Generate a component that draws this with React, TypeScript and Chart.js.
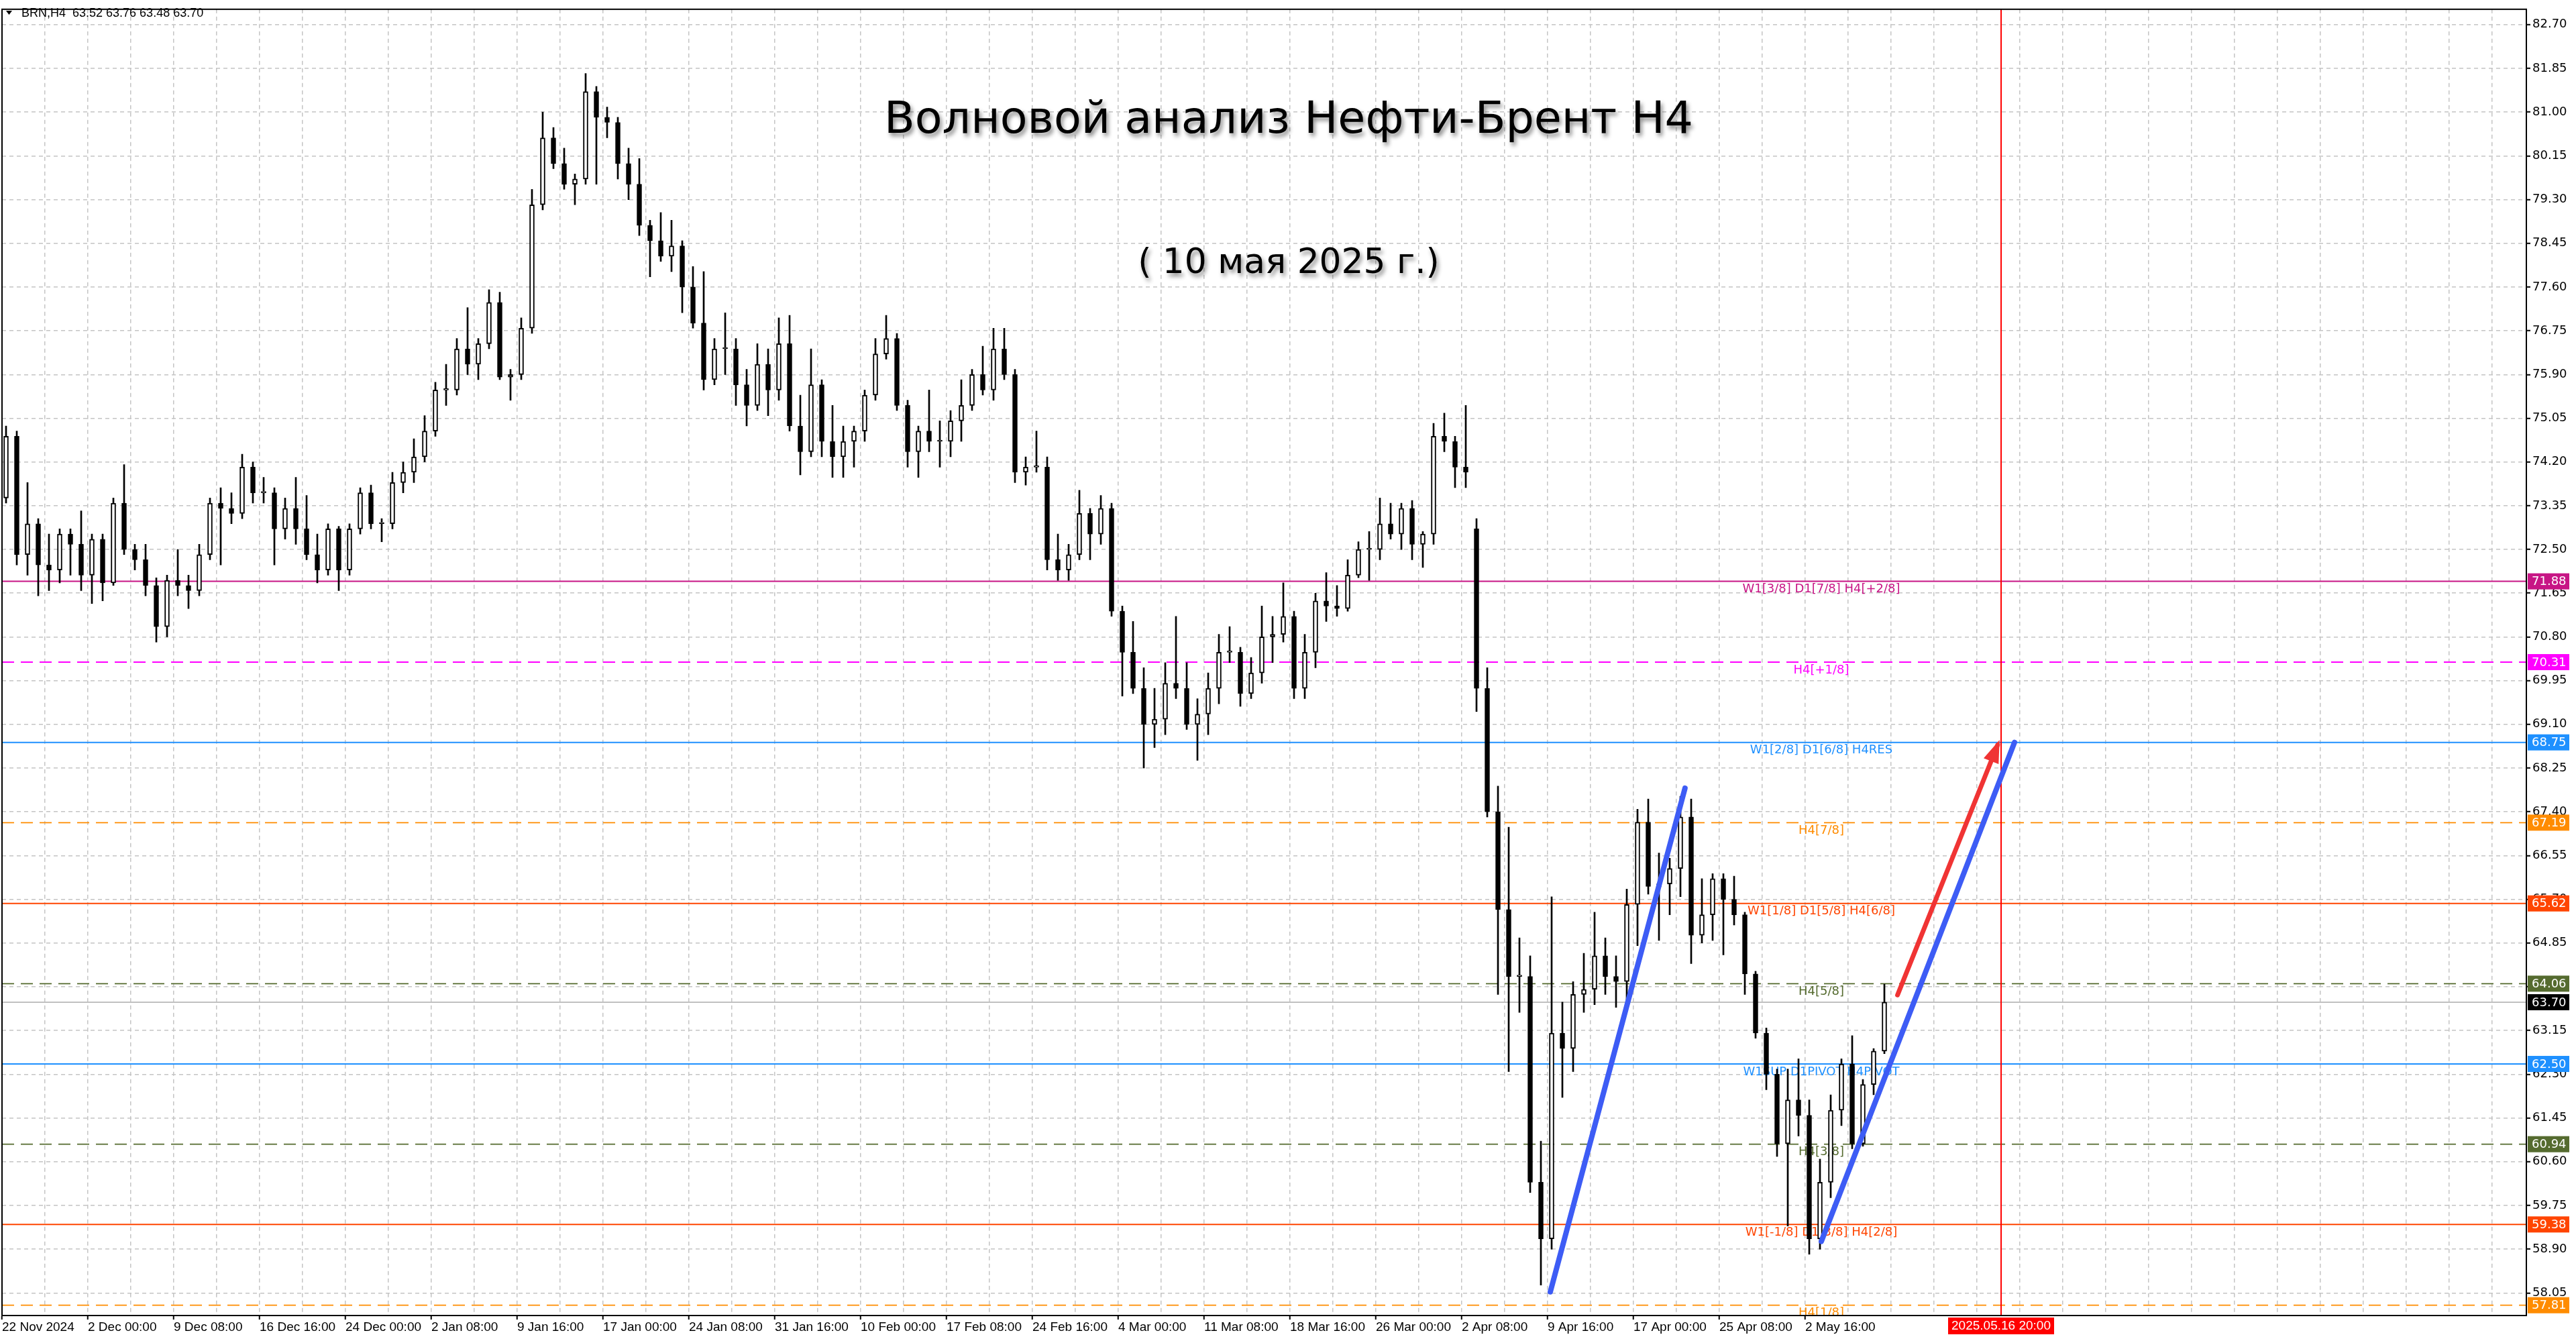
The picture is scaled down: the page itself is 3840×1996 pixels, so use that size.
import { useEffect, useRef } from 'react';
import { Chart, registerables } from 'chart.js';

Chart.register(...registerables);

// BRN H4, grouped by 4 bars (index 0 = first H4 bar on the chart)
const BARS_PER_GROUP = 4;

const groupOpen = [
  73.5, 74.7, 72.4, 73.0, 72.2, 72.1, 72.8, 72.6, 72.0, 72.7,
  71.85, 73.4, 72.5, 72.3, 71.8, 71.0, 71.9, 71.8, 71.7, 72.4,
  73.4, 73.3, 73.2, 74.1, 73.6, 73.6, 72.9, 73.3, 72.9, 72.4,
  72.1, 72.9, 72.1, 72.9, 73.6, 73.0, 73.0, 73.8, 74.0, 74.3,
  74.8, 75.6, 75.6, 76.4, 76.1, 76.5, 77.3, 75.85, 75.9, 76.8,
  79.2, 80.5, 80.0, 79.6, 79.7, 81.4, 80.9, 80.8, 80.0, 79.6,
  78.8, 78.5, 78.2, 78.4, 77.6, 76.9, 75.8, 76.4, 76.4, 75.7,
  75.3, 76.1, 75.6, 76.5, 74.9, 74.4, 75.7, 74.6, 74.3, 74.6,
  74.8, 75.5, 76.3, 76.6, 75.3, 74.4, 74.8, 74.6, 74.6, 75.0,
  75.3, 75.9, 75.6, 76.4, 75.9, 74.0, 74.1, 74.1, 72.3, 72.1,
  72.4, 73.2, 72.8, 73.3, 71.3, 70.5, 69.8, 69.1, 69.2, 69.9,
  69.8, 69.1, 69.3, 69.8, 70.5, 70.5, 69.7, 70.1, 70.8, 70.85,
  71.2, 69.8, 70.5, 71.5, 71.4, 71.35, 72.0, 72.5, 72.5, 73.0,
  72.8, 73.3, 72.6, 72.8, 74.7, 74.6, 74.1, 72.9, 69.8, 67.4,
  65.5, 64.2, 64.2, 60.2, 59.1, 63.1, 62.8, 63.85, 63.95, 64.6,
  64.2, 64.1, 65.6, 67.2, 65.95, 66.0, 66.3, 67.3, 65.0, 65.4,
  66.1, 65.7, 65.4, 64.25, 63.1, 62.3, 60.95, 61.8, 61.5, 59.1,
  60.2, 61.6, 62.5, 60.95, 62.1, 62.75,
];

const groupHigh = [
  74.9, 74.8, 73.8, 73.1, 72.8, 72.9, 72.9, 73.25, 72.8, 72.8,
  73.5, 74.15, 72.6, 72.6, 71.95, 72.0, 72.5, 72.0, 72.6, 73.5,
  73.7, 73.6, 74.35, 74.2, 73.9, 73.7, 73.5, 73.9, 73.55, 72.8,
  73.0, 72.95, 73.0, 73.7, 73.75, 73.1, 74.0, 74.2, 74.65, 75.1,
  75.75, 76.1, 76.6, 77.2, 76.6, 77.55, 77.5, 76.0, 77.0, 79.5,
  81.0, 80.7, 80.3, 79.8, 81.75, 81.5, 81.1, 80.9, 80.3, 80.1,
  78.9, 79.05, 78.9, 78.5, 78.0, 77.9, 76.6, 77.1, 76.6, 76.0,
  76.5, 76.4, 77.0, 77.05, 75.5, 76.4, 75.8, 75.3, 74.9, 74.9,
  75.6, 76.6, 77.05, 76.7, 75.4, 74.9, 75.6, 75.0, 75.2, 75.8,
  76.0, 76.45, 76.8, 76.8, 76.0, 74.3, 74.8, 74.3, 72.8, 72.6,
  73.65, 73.3, 73.55, 73.4, 71.4, 71.1, 70.2, 69.8, 70.3, 71.2,
  70.3, 69.6, 70.1, 70.85, 71.0, 70.6, 70.4, 71.4, 71.2, 71.85,
  71.3, 70.85, 71.65, 72.05, 71.8, 72.3, 72.65, 72.85, 73.5, 73.4,
  73.4, 73.45, 72.85, 74.95, 75.15, 74.7, 75.3, 73.1, 70.2, 67.9,
  67.1, 64.95, 64.6, 61.0, 65.75, 63.7, 64.1, 64.65, 65.45, 64.95,
  64.6, 65.9, 67.45, 67.65, 66.6, 66.5, 67.7, 67.65, 66.1, 66.2,
  66.2, 66.15, 65.45, 64.3, 63.2, 62.4, 62.4, 62.6, 61.8, 60.65,
  61.9, 62.6, 63.05, 62.2, 62.8, 64.05,
];

const groupLow = [
  73.4, 72.2, 72.0, 71.6, 71.7, 71.85, 72.0, 71.7, 71.45, 71.5,
  71.8, 72.4, 72.1, 71.6, 70.7, 70.8, 71.6, 71.35, 71.6, 72.3,
  72.2, 73.0, 73.1, 73.4, 73.4, 72.2, 72.7, 72.6, 72.3, 71.85,
  72.0, 71.7, 72.0, 72.8, 72.9, 72.65, 72.9, 73.6, 73.8, 74.2,
  74.7, 75.3, 75.5, 75.9, 75.8, 76.4, 75.8, 75.4, 75.8, 76.7,
  79.1, 79.9, 79.5, 79.2, 79.6, 79.6, 80.5, 79.7, 79.3, 78.6,
  77.8, 78.1, 77.9, 77.1, 76.8, 75.6, 75.7, 75.9, 75.3, 74.9,
  75.2, 75.1, 75.4, 74.8, 73.95, 74.3, 74.3, 73.9, 73.9, 74.1,
  74.6, 75.4, 76.2, 75.2, 74.1, 73.9, 74.4, 74.1, 74.3, 74.6,
  75.2, 75.5, 75.4, 75.8, 73.8, 73.75, 74.0, 72.1, 71.9, 71.9,
  72.3, 72.3, 72.6, 71.2, 69.65, 69.7, 68.25, 68.65, 68.9, 69.6,
  69.0, 68.4, 68.9, 69.5, 70.3, 69.45, 69.6, 69.9, 70.3, 70.7,
  69.6, 69.6, 70.2, 71.1, 71.2, 71.3, 71.95, 71.9, 72.3, 72.7,
  72.5, 72.3, 72.15, 72.6, 74.4, 73.7, 73.7, 69.35, 67.3, 63.85,
  62.35, 63.5, 60.0, 58.2, 58.9, 61.85, 62.35, 63.5, 63.65, 63.85,
  63.6, 63.7, 64.8, 65.8, 64.9, 65.4, 65.75, 64.45, 64.85, 64.9,
  64.62, 65.2, 63.85, 63.0, 62.0, 60.7, 59.35, 61.1, 58.8, 58.9,
  59.9, 61.3, 60.85, 60.9, 61.9, 62.7,
];

const groupClose = [
  74.7, 72.4, 73.0, 72.2, 72.1, 72.8, 72.6, 72.0, 72.7, 71.85,
  73.4, 72.5, 72.3, 71.8, 71.0, 71.9, 71.8, 71.7, 72.4, 73.4,
  73.3, 73.2, 74.1, 73.6, 73.6, 72.9, 73.3, 72.9, 72.4, 72.1,
  72.9, 72.1, 72.9, 73.6, 73.0, 73.0, 73.8, 74.0, 74.3, 74.8,
  75.6, 75.6, 76.4, 76.1, 76.5, 77.3, 75.85, 75.9, 76.8, 79.2,
  80.5, 80.0, 79.6, 79.7, 81.4, 80.9, 80.8, 80.0, 79.6, 78.8,
  78.5, 78.2, 78.4, 77.6, 76.9, 75.8, 76.4, 76.4, 75.7, 75.3,
  76.1, 75.6, 76.5, 74.9, 74.4, 75.7, 74.6, 74.3, 74.6, 74.8,
  75.5, 76.3, 76.6, 75.3, 74.4, 74.8, 74.6, 74.6, 75.0, 75.3,
  75.9, 75.6, 76.4, 75.9, 74.0, 74.1, 74.1, 72.3, 72.1, 72.4,
  73.2, 72.8, 73.3, 71.3, 70.5, 69.8, 69.1, 69.2, 69.9, 69.8,
  69.1, 69.3, 69.8, 70.5, 70.5, 69.7, 70.1, 70.8, 70.85, 71.2,
  69.8, 70.5, 71.5, 71.4, 71.35, 72.0, 72.5, 72.5, 73.0, 72.8,
  73.3, 72.6, 72.8, 74.7, 74.6, 74.1, 74.0, 69.8, 67.4, 65.5,
  64.2, 64.2, 60.2, 59.1, 63.1, 62.8, 63.85, 63.95, 64.6, 64.2,
  64.1, 65.6, 67.2, 65.95, 66.0, 66.3, 67.3, 65.0, 65.4, 66.1,
  65.7, 65.4, 64.25, 63.1, 62.3, 60.95, 61.8, 61.5, 59.1, 60.2,
  61.6, 62.5, 60.95, 62.1, 62.75, 63.7,
];

// time axis labels, one every 32 H4 bars
const timeLabels = [
  '22 Nov 2024', '2 Dec 00:00', '9 Dec 08:00', '16 Dec 16:00', '24 Dec 00:00',
  '2 Jan 08:00', '9 Jan 16:00', '17 Jan 00:00', '24 Jan 08:00', '31 Jan 16:00',
  '10 Feb 00:00', '17 Feb 08:00', '24 Feb 16:00', '4 Mar 00:00', '11 Mar 08:00',
  '18 Mar 16:00', '26 Mar 00:00', '2 Apr 08:00', '9 Apr 16:00', '17 Apr 00:00',
  '25 Apr 08:00', '2 May 16:00',
];
const LABEL_EVERY = 32;
const GRID_EVERY = 16;

const priceTicks = [
  58.05, 58.9, 59.75, 60.6, 61.45, 62.3, 63.15, 64.0, 64.85, 65.7,
  66.55, 67.4, 68.25, 69.1, 69.95, 70.8, 71.65, 72.5, 73.35, 74.2,
  75.05, 75.9, 76.75, 77.6, 78.45, 79.3, 80.15, 81.0, 81.85, 82.7,
];

// Murrey / pivot levels
const levelPrices = [71.88, 70.31, 68.75, 67.19, 65.62, 64.06, 62.5, 60.94, 59.38, 57.81];
const levelNames = [
  'W1[3/8] D1[7/8] H4[+2/8]', 'H4[+1/8]', 'W1[2/8] D1[6/8] H4RES', 'H4[7/8]',
  'W1[1/8] D1[5/8] H4[6/8]', 'H4[5/8]', 'W1SUP D1PIVOT H4PIVOT', 'H4[3/8]',
  'W1[-1/8] D1[3/8] H4[2/8]', 'H4[1/8]',
];
const levelColors = [
  '#C71585', '#FF00FF', '#1E90FF', '#FF8C00', '#FF4500',
  '#556B2F', '#1E90FF', '#556B2F', '#FF4500', '#FF8C00',
];
const levelDashed = [false, true, false, true, false, true, false, true, false, true];

const currentPrice = 63.7;
const headerText = 'BRN,H4  63.52 63.76 63.48 63.70';

// wave lines (bar index, price)
const wave1X = [577, 627.2];
const wave1Y = [58.07, 67.86];
const wave2X = [678, 750];
const wave2Y = [59.05, 68.75];
const arrowX = [706.4, 743.7];
const arrowY = [63.84, 68.7];

const markerBar = 745;
const markerText = '2025.05.16 20:00';

const titleText = 'Волновой анализ Нефти-Брент Н4';
const dateText = '( 10 мая 2025 г.)';

const X_MIN = 0;
const X_MAX = 940.75;
const Y_MIN = 57.61;
const Y_MAX = 83.0;
const LABEL_BAR = 678;

const gridBars = Array.from({ length: Math.floor(X_MAX / GRID_EVERY) + 1 }, (_, i) => i * GRID_EVERY);
const ARROW_INDEX = levelPrices.length + 1 + 1 + 2 + 2;

const overlayPlugin = {
  id: 'overlay',
  beforeDatasetsDraw(chart: any) {
    const { ctx, chartArea, scales } = chart;
    ctx.save();
    ctx.beginPath();
    ctx.rect(chartArea.left, chartArea.top, chartArea.right - chartArea.left, chartArea.bottom - chartArea.top);
    ctx.clip();
    ctx.font = '18px "DejaVu Sans"';
    ctx.textAlign = 'center';
    ctx.textBaseline = 'top';
    const lx = scales.x.getPixelForValue(LABEL_BAR);
    levelPrices.forEach((p, i) => {
      ctx.fillStyle = levelColors[i];
      ctx.fillText(levelNames[i], lx, scales.y.getPixelForValue(p) + 3);
    });
    ctx.restore();
  },
  afterDatasetsDraw(chart: any) {
    const { ctx } = chart;
    const meta = chart.getDatasetMeta(ARROW_INDEX);
    const a = meta.data[0];
    const b = meta.data[1];
    if (!a || !b) return;
    const ang = Math.atan2(b.y - a.y, b.x - a.x);
    const cos = Math.cos(ang);
    const sin = Math.sin(ang);
    const tipX = b.x + cos * 8;
    const tipY = b.y + sin * 8;
    const len = 34;
    const half = 12;
    ctx.save();
    ctx.fillStyle = '#F03434';
    ctx.beginPath();
    ctx.moveTo(tipX, tipY);
    ctx.lineTo(tipX - cos * len - sin * half, tipY - sin * len + cos * half);
    ctx.lineTo(tipX - cos * len + sin * half, tipY - sin * len - cos * half);
    ctx.closePath();
    ctx.fill();
    ctx.restore();
  },
  afterDraw(chart: any) {
    const { ctx, chartArea, scales } = chart;
    ctx.save();

    // frame
    ctx.strokeStyle = '#000';
    ctx.lineWidth = 2;
    ctx.strokeRect(chartArea.left, chartArea.top, chartArea.right - chartArea.left, chartArea.bottom - chartArea.top);

    // price tags on the axis
    const tagX = chartArea.right + 2;
    ctx.font = '18px "DejaVu Sans"';
    ctx.textAlign = 'left';
    ctx.textBaseline = 'middle';
    const drawTag = (price: number, color: string) => {
      const yy = scales.y.getPixelForValue(price);
      ctx.fillStyle = color;
      ctx.fillRect(tagX, yy - 12, 62, 24);
      ctx.fillStyle = '#fff';
      ctx.fillText(price.toFixed(2), tagX + 6, yy + 1);
    };
    levelPrices.forEach((p, i) => drawTag(p, levelColors[i]));
    drawTag(currentPrice, '#000');

    // vertical marker label
    const mx = scales.x.getPixelForValue(markerBar);
    ctx.fillStyle = '#FF0000';
    ctx.fillRect(mx - 79, chartArea.bottom + 3, 158, 25);
    ctx.fillStyle = '#fff';
    ctx.font = '19px "Liberation Sans"';
    ctx.textAlign = 'center';
    ctx.fillText(markerText, mx, chartArea.bottom + 16);

    // header
    ctx.fillStyle = '#000';
    ctx.beginPath();
    ctx.moveTo(9, 16);
    ctx.lineTo(18, 16);
    ctx.lineTo(13.5, 22);
    ctx.closePath();
    ctx.fill();
    ctx.font = '18px "Liberation Sans"';
    ctx.textAlign = 'left';
    ctx.textBaseline = 'middle';
    ctx.fillText(headerText, 32, 20);

    // title
    ctx.shadowColor = 'rgba(0,0,0,0.45)';
    ctx.shadowBlur = 6;
    ctx.shadowOffsetX = 3;
    ctx.shadowOffsetY = 5;
    ctx.fillStyle = '#000';
    ctx.textAlign = 'center';
    ctx.textBaseline = 'alphabetic';
    const fit = (text: string, width: number) => {
      ctx.font = '100px "DejaVu Sans"';
      const size = (100 * width) / ctx.measureText(text).width;
      ctx.font = `${size.toFixed(1)}px "DejaVu Sans"`;
    };
    fit(titleText, 1206);
    ctx.fillText(titleText, 1921, 198);
    fit(dateText, 450);
    ctx.fillText(dateText, 1921, 407);
    ctx.restore();
  },
};

const groupX = (g: number) => g * BARS_PER_GROUP + 1.5;

export default function App() {
  const canvasRef = useRef<HTMLCanvasElement>(null);

  useEffect(() => {
    if (!canvasRef.current) return;

    const levelSets = levelPrices.map((p, i) => ({
      type: 'line' as const,
      data: [{ x: X_MIN, y: p }, { x: X_MAX, y: p }],
      borderColor: levelColors[i],
      borderWidth: levelDashed[i] ? 1.8 : 2,
      borderDash: levelDashed[i] ? [18, 10] : [],
      pointRadius: 0,
      order: 10,
    }));

    const datasets: any[] = [
      ...levelSets,
      {
        type: 'line',
        data: [{ x: X_MIN, y: currentPrice }, { x: X_MAX, y: currentPrice }],
        borderColor: '#C0C0C0',
        borderWidth: 2,
        pointRadius: 0,
        order: 10,
      },
      {
        type: 'line',
        data: [{ x: markerBar, y: Y_MIN }, { x: markerBar, y: Y_MAX }],
        borderColor: '#FF0000',
        borderWidth: 2,
        pointRadius: 0,
        order: 9,
      },
      {
        type: 'bar',
        data: groupHigh.map((h, g) => ({ x: groupX(g), y: [groupLow[g], h] })),
        backgroundColor: '#000',
        barThickness: 2,
        grouped: false,
        order: 4,
      },
      {
        type: 'bar',
        data: groupOpen.map((o, g) => ({ x: groupX(g), y: [o, groupClose[g]] })),
        backgroundColor: groupOpen.map((o, g) => (groupClose[g] >= o ? '#fff' : '#000')),
        borderColor: '#000',
        borderWidth: 2,
        borderSkipped: false,
        barThickness: 7,
        minBarLength: 2,
        grouped: false,
        order: 3,
      },
      {
        type: 'line',
        data: wave1X.map((x, i) => ({ x, y: wave1Y[i] })),
        borderColor: '#3D5CF5',
        borderWidth: 8,
        borderCapStyle: 'round',
        pointRadius: 0,
        order: 1,
      },
      {
        type: 'line',
        data: wave2X.map((x, i) => ({ x, y: wave2Y[i] })),
        borderColor: '#3D5CF5',
        borderWidth: 8,
        borderCapStyle: 'round',
        pointRadius: 0,
        order: 1,
      },
      {
        type: 'line',
        data: arrowX.map((x, i) => ({ x, y: arrowY[i] })),
        borderColor: '#F03434',
        borderWidth: 7,
        borderCapStyle: 'round',
        pointRadius: 0,
        order: 1,
      },
    ];

    const chart = new Chart(canvasRef.current, {
      type: 'line',
      data: { datasets },
      options: {
        animation: false,
        responsive: true,
        maintainAspectRatio: false,
        events: [],
        layout: { padding: { left: 3, top: 6, right: 0, bottom: 0 } },
        plugins: { legend: { display: false }, tooltip: { enabled: false } },
        scales: {
          x: {
            type: 'linear',
            min: X_MIN,
            max: X_MAX,
            offset: false,
            afterBuildTicks: (s: any) => {
              s.ticks = gridBars.map((v) => ({ value: v }));
            },
            afterFit: (s: any) => {
              s.height = 35;
            },
            ticks: {
              autoSkip: false,
              maxRotation: 0,
              minRotation: 0,
              align: 'start',
              padding: 0,
              color: '#000',
              font: { family: 'Liberation Sans', size: 19 },
              callback: (v: any) => {
                const n = Number(v);
                const k = n / LABEL_EVERY;
                return Number.isInteger(k) && k < timeLabels.length ? timeLabels[k] : '';
              },
            },
            grid: {
              offset: false,
              color: '#c4c4c4',
              lineWidth: 1.5,
              tickLength: 6,
              tickWidth: 2,
              tickColor: (c: any) => {
                const k = c.tick ? c.tick.value / LABEL_EVERY : -1;
                return Number.isInteger(k) && k >= 0 && k < timeLabels.length ? '#000' : 'rgba(0,0,0,0)';
              },
            },
            border: { color: '#000', width: 2, dash: [6, 5] },
          },
          y: {
            type: 'linear',
            position: 'right',
            min: Y_MIN,
            max: Y_MAX,
            beginAtZero: false,
            afterBuildTicks: (s: any) => {
              s.ticks = priceTicks.map((v) => ({ value: v }));
            },
            afterFit: (s: any) => {
              s.width = 74;
            },
            ticks: {
              color: '#000',
              padding: 3,
              font: { family: 'DejaVu Sans', size: 18 },
              callback: (v: any) => Number(v).toFixed(2),
            },
            grid: { color: '#c4c4c4', lineWidth: 1.5, tickLength: 6, tickWidth: 2, tickColor: '#000' },
            border: { color: '#000', width: 2, dash: [6, 5] },
          },
        },
      } as any,
      plugins: [overlayPlugin],
    });

    return () => chart.destroy();
  }, []);

  return (
    <div style={{ position: 'fixed', left: 0, top: 0, width: '100vw', height: '100vh', background: '#fff' }}>
      <canvas ref={canvasRef} />
    </div>
  );
}
